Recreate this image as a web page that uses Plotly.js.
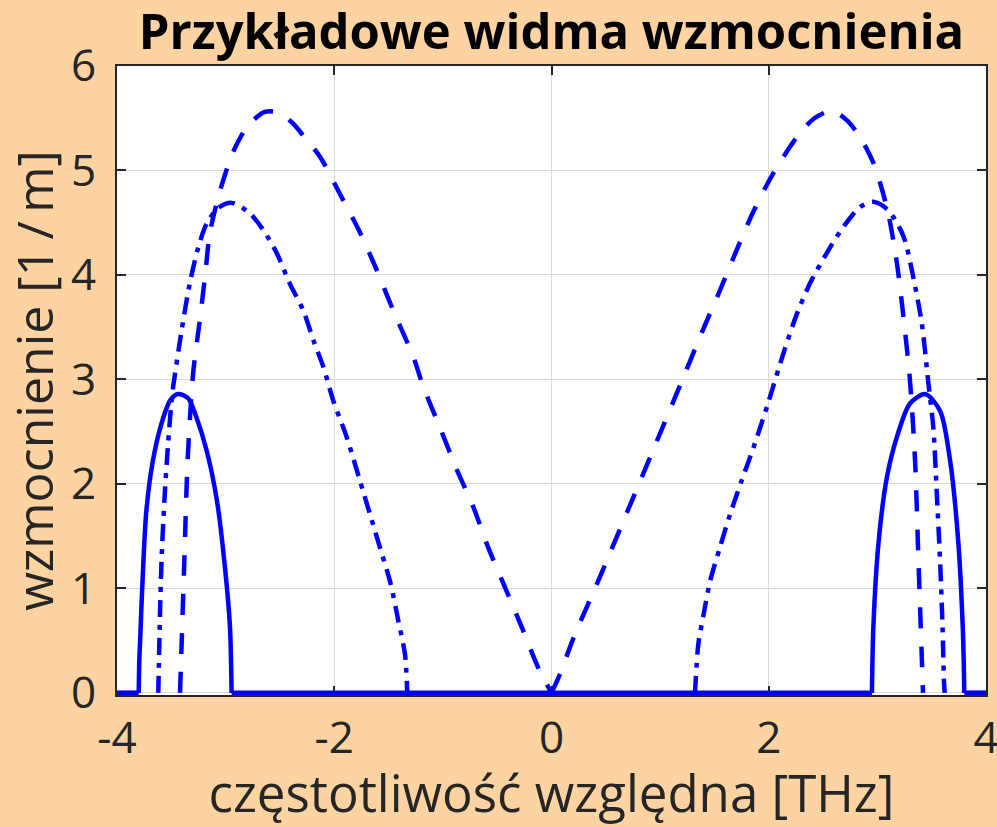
<!DOCTYPE html>
<html>
<head>
<meta charset="utf-8">
<script src="https://cdn.plot.ly/plotly-3.0.1.min.js"></script>
<style>html,body{margin:0;padding:0;background:rgb(253,211,162);}</style>
</head>
<body>
<div id="chart" style="width:997px;height:827px;"></div>
<script>
// Solid curve: zero stretches and two gain lobes
const solidZeroX = [-4, -3.80, null, -2.945, 2.95, null, 3.80, 4];
const solidZeroY = [0, 0, null, 0, 0, null, 0, 0];
const solidLeftX = [-3.80, -3.795, -3.785, -3.77, -3.73, -3.67, -3.59, -3.51, -3.44, -3.345, -3.27, -3.175, -3.08, -3.006, -2.96, -2.945];
const solidLeftY = [0, 0.30, 0.55, 0.95, 1.74, 2.22, 2.58, 2.80, 2.86, 2.82, 2.64, 2.32, 1.84, 1.20, 0.63, 0];
const solidRightX = [2.95, 2.963, 3.01, 3.087, 3.18, 3.30, 3.44, 3.577, 3.67, 3.746, 3.786, 3.795, 3.80];
const solidRightY = [0, 0.63, 1.43, 2.06, 2.45, 2.77, 2.86, 2.70, 2.22, 1.43, 0.63, 0.30, 0];
// Dashed curve: two gain lobes meeting at 0
const dashLeftX = [-3.42, -3.41, -3.38, -3.35, -3.30, -3.24, -3.19, -3.145, -3.05, -2.93, -2.80, -2.64, -2.50, -2.38, -2.26, -2.13, -1.95, -1.76, -1.61, -1.457, -1.27, -1.18, -1.027, -0.873, -0.72, -0.582, -0.428, -0.274, -0.122, 0];
const dashLeftY = [0, 0.31, 1.27, 2.22, 3.05, 3.55, 3.98, 4.40, 4.81, 5.18, 5.42, 5.56, 5.55, 5.45, 5.30, 5.13, 4.78, 4.40, 4.05, 3.66, 3.21, 2.93, 2.54, 2.14, 1.78, 1.39, 1.01, 0.63, 0.24, 0];
const dashRightX = [0, 0.078, 0.20, 0.45, 0.70, 0.95, 1.214, 1.40, 1.55, 1.705, 1.86, 2.04, 2.26, 2.42, 2.58, 2.72, 2.84, 2.96, 3.025, 3.10, 3.18, 3.24, 3.30, 3.347, 3.378, 3.41, 3.42];
const dashRightY = [0, 0.18, 0.52, 1.12, 1.74, 2.36, 3.02, 3.49, 3.85, 4.24, 4.61, 4.97, 5.32, 5.50, 5.57, 5.48, 5.32, 5.08, 4.88, 4.59, 4.11, 3.60, 2.99, 2.22, 1.27, 0.31, 0];
// Dash-dot curve: two gain lobes
const dotLeftX = [-3.62, -3.615, -3.605, -3.59, -3.56, -3.53, -3.50, -3.483, -3.405, -3.33, -3.25, -3.175, -3.07, -2.945, -2.776, -2.654, -2.53, -2.41, -2.285, -2.19, -2.10, -2.01, -1.886, -1.763, -1.671, -1.579, -1.487, -1.41, -1.349, -1.328];
const dotLeftY = [0, 0.25, 0.72, 1.27, 1.91, 2.38, 2.77, 2.93, 3.47, 3.92, 4.27, 4.49, 4.64, 4.69, 4.59, 4.43, 4.21, 3.92, 3.66, 3.37, 3.12, 2.80, 2.45, 2.03, 1.71, 1.39, 1.07, 0.69, 0.37, 0];
const dotRightX = [1.321, 1.352, 1.40, 1.46, 1.55, 1.644, 1.75, 1.86, 1.99, 2.135, 2.26, 2.38, 2.534, 2.687, 2.84, 2.96, 3.10, 3.24, 3.33, 3.41, 3.47, 3.515, 3.547, 3.577, 3.60, 3.614, 3.62];
const dotRightY = [0, 0.47, 0.75, 1.07, 1.39, 1.71, 2.03, 2.35, 2.76, 3.25, 3.63, 3.92, 4.21, 4.46, 4.65, 4.70, 4.62, 4.37, 3.98, 3.53, 2.96, 2.54, 1.91, 1.27, 0.63, 0.09, 0];

const xTicks = [-4, -2, 0, 2, 4];
const xTickText = ['-4', '-2', '0', '2', '4'];
const yTicks = [0, 1, 2, 3, 4, 5, 6];
const yTickText = ['0', '1', '2', '3', '4', '5', '6'];

const FONT = 'Open Sans';
const INK = '#262626';
const BLUE = '#0000ff';

function lobe(x, y, dash) {
  return {x: x, y: y, mode: 'lines', hoverinfo: 'skip',
          line: {color: BLUE, width: 4.5, dash: dash, shape: 'spline', smoothing: 0.8}};
}
const DASH = '21px,18px';
const DASHDOT = '17px,8px,5px,8px';

const traces = [
  lobe(dashLeftX, dashLeftY, DASH),
  lobe(dashRightX, dashRightY, DASH),
  lobe(dotLeftX, dotLeftY, DASHDOT),
  lobe(dotRightX, dotRightY, DASHDOT),
  lobe(solidLeftX, solidLeftY, 'solid'),
  lobe(solidRightX, solidRightY, 'solid'),
  {x: solidZeroX, y: solidZeroY, mode: 'lines', hoverinfo: 'skip', line: {color: BLUE, width: 5}}
];

const axisCommon = {
  showgrid: true, gridcolor: '#d9d9d9', gridwidth: 1,
  zeroline: false, showline: true, linecolor: INK, linewidth: 2,
  mirror: 'ticks', ticks: 'inside', ticklen: 9, tickwidth: 2, tickcolor: INK,
  layer: 'below traces', automargin: false, fixedrange: true,
  ticklabeloverflow: 'allow'
};

const layout = {
  width: 997, height: 827,
  paper_bgcolor: 'rgb(253,211,162)', plot_bgcolor: '#ffffff',
  showlegend: false,
  margin: {l: 117, r: 11, t: 66, b: 132, pad: 0},
  title: {
    text: '<b>Przykładowe widma wzmocnienia</b>',
    font: {family: FONT, size: 49, color: '#000000'},
    x: 0.5, xref: 'paper', xanchor: 'center',
    y: 1 - 32 / 827, yref: 'container', yanchor: 'middle'
  },
  xaxis: Object.assign({}, axisCommon, {
    range: [-4, 4], tickmode: 'array', tickvals: xTicks, ticktext: xTickText,
    tickfont: {family: FONT, size: 44, color: INK},
    ticklabelstandoff: 3,
    title: {text: 'częstotliwość względna [THz]', font: {family: FONT, size: 51, color: INK}, standoff: 18}
  }),
  yaxis: Object.assign({}, axisCommon, {
    range: [-0.02, 6], tickmode: 'array', tickvals: yTicks, ticktext: yTickText,
    tickfont: {family: FONT, size: 44, color: INK},
    ticklabelstandoff: 10,
    title: {text: 'wzmocnienie [1\u2009/\u2009m]', font: {family: FONT, size: 50, color: INK}, standoff: 10}
  })
};

Plotly.newPlot('chart', traces, layout, {staticPlot: true, displayModeBar: false});
</script>
</body>
</html>
